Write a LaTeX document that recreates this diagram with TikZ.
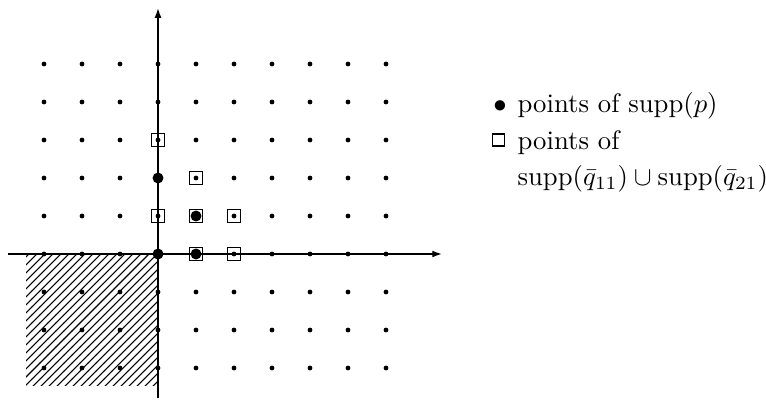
\documentclass[tikz,border=0pt]{standalone}
\usepackage{amssymb}
\usetikzlibrary{patterns,arrows.meta}
\begin{document}
\begin{tikzpicture}[x=0.5cm,y=0.5cm,
  smalldot/.style={circle,fill=black,inner sep=0pt,minimum size=1.8pt},
  bigdot/.style={circle,fill=black,inner sep=0pt,minimum size=4.1pt},
  sqmark/.style={draw=black,line width=0.4pt,inner sep=0pt,minimum size=4.8pt},
  axisline/.style={line width=0.5pt,-{Latex[length=3.6pt,width=2.6pt]}},
  bound/.style={line width=1.1pt},
  legtext/.style={anchor=base west,inner sep=0pt},
  legsym/.style={anchor=base,inner sep=0pt}]
\useasboundingbox (-4.158,-3.921) rectangle (16,6.684);
% hatched region
\fill[pattern=north east lines] (-3.47,-3.47) rectangle (0,0);
% axes
\coordinate (xl) at (-3.95,0);
\coordinate (xr) at (7.47,0);
\coordinate (yb) at (0,-3.8);
\coordinate (yt) at (0,6.47);
\coordinate (o) at (0,0);
\coordinate (hl) at (-3.47,0);
\coordinate (vb) at (0,-3.6);
\draw[axisline] (xl) -- (xr);
\draw[axisline] (yb) -- (yt);
\draw[bound] (hl) -- (o) -- (vb);
% grid of dots
\foreach \i in {-3,...,6}
  \foreach \j in {-3,...,5}
    \node[smalldot] (d\i\j) at (\i,\j) {};
% squares
\foreach \p/\q [count=\k] in {0/3,0/1,1/2,1/1,2/1,1/0,2/0}
  \node[sqmark] (s\k) at (\p,\q) {};
% big dots
\foreach \p/\q [count=\k] in {0/0,0/2,1/1,1/0}
  \node[bigdot] (b\k) at (\p,\q) {};
% legend
\node[legsym] (lb) at (9.0,3.72) {$\bullet$};
\node[legtext] (l1) at (9.45,3.72) {points of $\mathrm{supp}(p)$};
\node[sqmark,minimum size=4.5pt] (ls) at (8.97,3.0) {};
\node[legtext] (l2) at (9.45,2.76) {points of};
\node[legtext] (l3) at (9.45,1.80) {$\mathrm{supp}(\bar q_{11})\cup\mathrm{supp}(\bar q_{21})$};
\end{tikzpicture}
\end{document}
